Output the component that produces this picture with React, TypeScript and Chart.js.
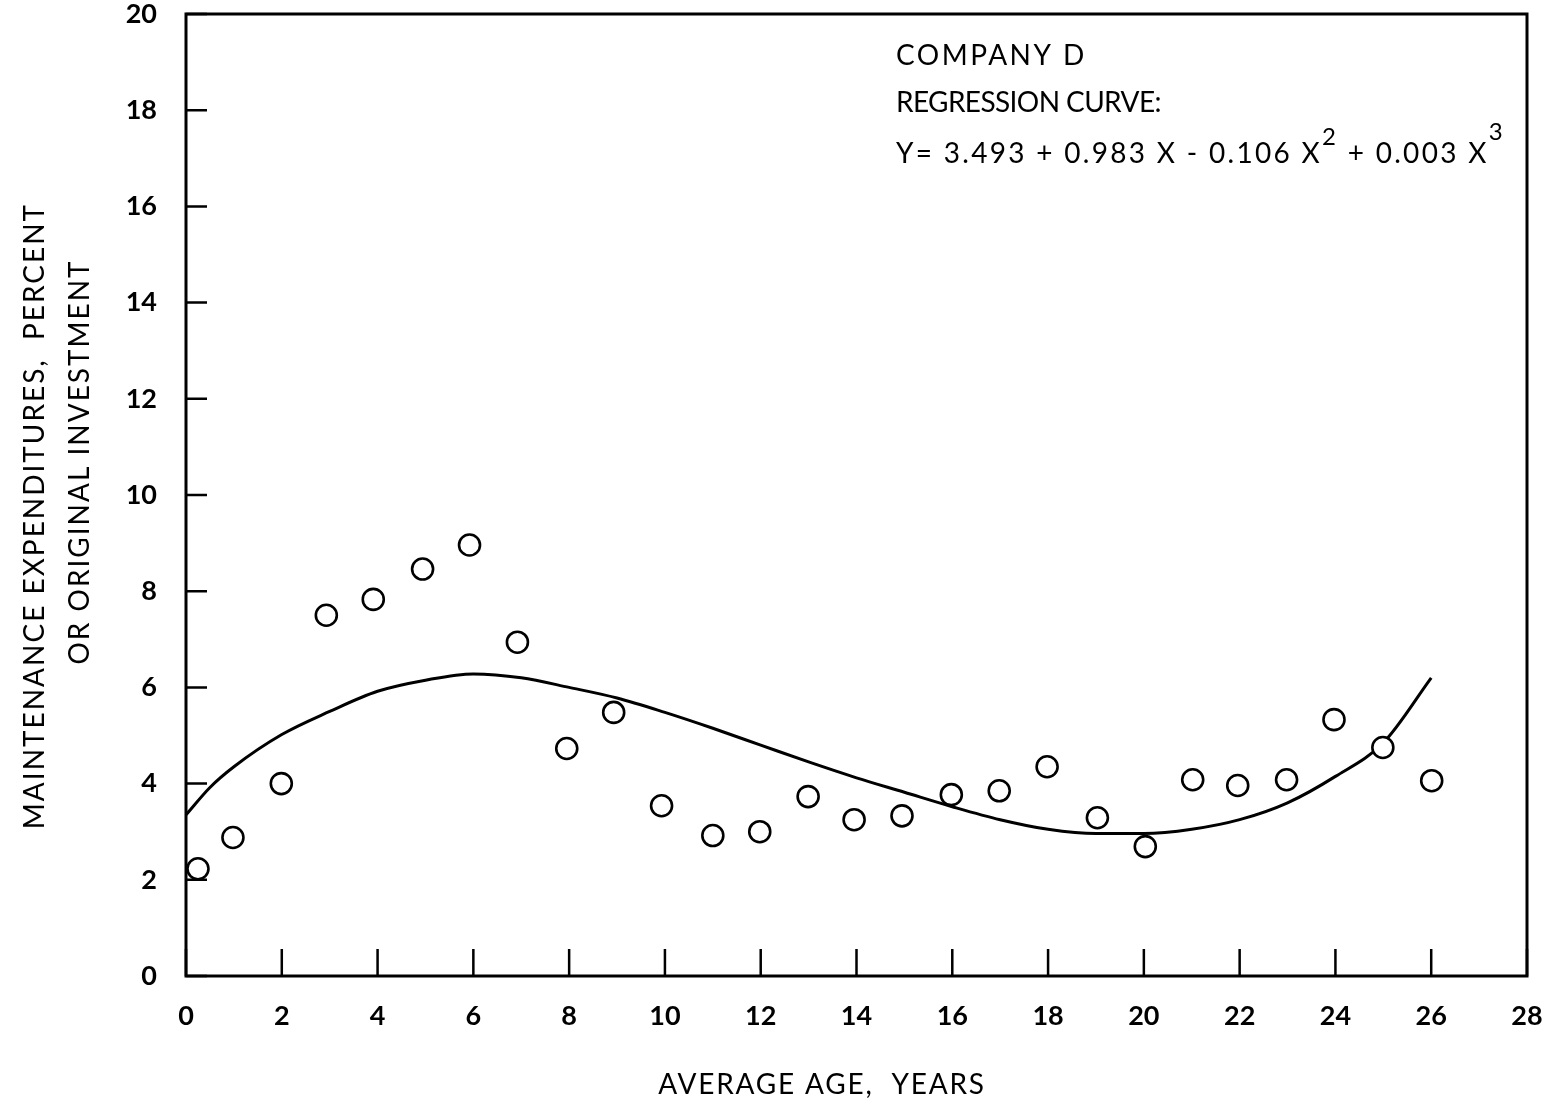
import React, { useEffect, useRef } from "react";
import { Chart, registerables } from "chart.js";

Chart.register(...registerables);

// Observed data points (average age, maintenance expenditure %)
const pointAges = [0.25, 0.98, 1.99, 2.93, 3.91, 4.94, 5.92, 6.92, 7.95, 8.93, 9.93, 11.0, 11.98, 12.99, 13.95, 14.95, 15.98, 16.98, 17.98, 19.03, 20.03, 21.02, 21.96, 22.98, 23.97, 24.99, 26.01];
const pointValues = [2.23, 2.88, 4.0, 7.5, 7.83, 8.46, 8.96, 6.94, 4.73, 5.48, 3.54, 2.92, 3.0, 3.73, 3.25, 3.33, 3.77, 3.85, 4.35, 3.29, 2.69, 4.08, 3.96, 4.08, 5.33, 4.75, 4.06];

// Regression curve
const curveAges = [0, 0.5, 1, 2, 3, 4, 5, 6, 7, 8, 9, 10, 11, 12, 13, 14, 15, 16, 17, 18, 19, 20, 21, 22, 23, 24, 25, 26];
const curveValues = [3.35, 3.92, 4.35, 5.02, 5.5, 5.92, 6.15, 6.28, 6.2, 6.0, 5.78, 5.48, 5.15, 4.8, 4.45, 4.12, 3.82, 3.52, 3.25, 3.05, 2.96, 2.96, 3.05, 3.25, 3.6, 4.15, 4.85, 6.2];

const xRange = [0, 28];
const yRange = [0, 20];
const tickStep = 2;

const titleLines = ["COMPANY D", "REGRESSION CURVE:"];
const equationParts = [
  { text: "Y= 3.493 + 0.983 X - 0.106 X", sup: false },
  { text: "2", sup: true },
  { text: " + 0.003 X", sup: false },
  { text: "3", sup: true },
];
const yTitleLines = ["MAINTENANCE EXPENDITURES,  PERCENT", "OR ORIGINAL INVESTMENT"];
const xTitle = "AVERAGE AGE,  YEARS";

const FONT = "Lato, 'Noto Sans', sans-serif";

const framePlugin = {
  id: "framePlugin",
  afterDraw(chart: any) {
    const { ctx, chartArea } = chart;
    const xs = chart.scales.x;
    const ys = chart.scales.y;
    ctx.save();
    ctx.strokeStyle = "#000";
    ctx.lineWidth = 3;
    ctx.strokeRect(chartArea.left, chartArea.top, chartArea.right - chartArea.left, chartArea.bottom - chartArea.top);
    ctx.lineWidth = 2.5;
    ctx.beginPath();
    ys.ticks.forEach((t: any) => {
      const y = ys.getPixelForValue(t.value);
      ctx.moveTo(chartArea.left, y);
      ctx.lineTo(chartArea.left + 21, y);
    });
    xs.ticks.forEach((t: any) => {
      const x = xs.getPixelForValue(t.value);
      ctx.moveTo(x, chartArea.bottom);
      ctx.lineTo(x, chartArea.bottom - 27);
    });
    ctx.stroke();

    ctx.fillStyle = "#000";
    ctx.textBaseline = "middle";
    ctx.textAlign = "left";
    ctx.font = `28px ${FONT}`;
    ctx.letterSpacing = "2.5px";
    ctx.fillText(titleLines[0], 896, 56);
    ctx.letterSpacing = "-0.6px";
    ctx.fillText(titleLines[1], 896, 103);
    ctx.letterSpacing = "2.3px";
    let x = 896;
    equationParts.forEach((p, i) => {
      ctx.font = p.sup ? `24px ${FONT}` : `28px ${FONT}`;
      ctx.fillText(p.text, x, p.sup ? (i === 3 ? 132 : 137) : 154);
      x += ctx.measureText(p.text).width;
    });

    ctx.font = `28px ${FONT}`;
    ctx.textAlign = "center";
    ctx.letterSpacing = "2px";
    ctx.save();
    ctx.translate(35, 516);
    ctx.rotate(-Math.PI / 2);
    ctx.fillText(yTitleLines[0], 0, 0);
    ctx.restore();
    ctx.save();
    ctx.translate(80, 462);
    ctx.rotate(-Math.PI / 2);
    ctx.fillText(yTitleLines[1], 0, 0);
    ctx.restore();
    ctx.letterSpacing = "1.8px";
    ctx.fillText(xTitle, 822, 1085);
    ctx.letterSpacing = "0px";
    ctx.restore();
  },
};

export default function App() {
  const ref = useRef<HTMLCanvasElement | null>(null);
  useEffect(() => {
    if (!ref.current) return;
    const chart = new Chart(ref.current, {
      type: "scatter",
      data: {
        datasets: [
          {
            label: "Observed",
            data: pointAges.map((a, i) => ({ x: a, y: pointValues[i] })),
            showLine: false,
            pointRadius: 10.5,
            pointHoverRadius: 10.5,
            pointBorderWidth: 2.6,
            pointBackgroundColor: "#fff",
            pointBorderColor: "#000",
          },
          {
            label: "Regression",
            data: curveAges.map((a, i) => ({ x: a, y: curveValues[i] })),
            showLine: true,
            pointRadius: 0,
            borderColor: "#000",
            borderWidth: 3,
            cubicInterpolationMode: "monotone",
          },
        ],
      },
      options: {
        animation: false,
        responsive: false,
        maintainAspectRatio: false,
        layout: { padding: { top: 14, right: 18, left: 0, bottom: 0 } },
        plugins: { legend: { display: false }, tooltip: { enabled: false } },
        scales: {
          x: {
            type: "linear",
            min: xRange[0],
            max: xRange[1],
            grid: { display: false, drawTicks: false },
            border: { display: false },
            ticks: {
              stepSize: tickStep,
              padding: 24,
              color: "#000",
              font: { family: FONT, size: 27, weight: "bold" },
              maxRotation: 0,
            },
            afterFit(scale: any) {
              scale.height = 133;
              scale.paddingLeft = 0;
              scale.paddingRight = 0;
            },
          },
          y: {
            type: "linear",
            min: yRange[0],
            max: yRange[1],
            grid: { display: false, drawTicks: false },
            border: { display: false },
            ticks: {
              stepSize: tickStep,
              padding: 29,
              color: "#000",
              font: { family: FONT, size: 27, weight: "bold" },
            },
            afterFit(scale: any) {
              scale.width = 186;
              scale.paddingTop = 0;
              scale.paddingBottom = 0;
            },
          },
        },
      },
      plugins: [framePlugin],
    });
    return () => chart.destroy();
  }, []);
  return (
    <div style={{ position: "absolute", left: 0, top: 0, width: 1545, height: 1109, background: "#fff" }}>
      <canvas ref={ref} width={1545} height={1109} style={{ width: 1545, height: 1109 }} />
    </div>
  );
}
